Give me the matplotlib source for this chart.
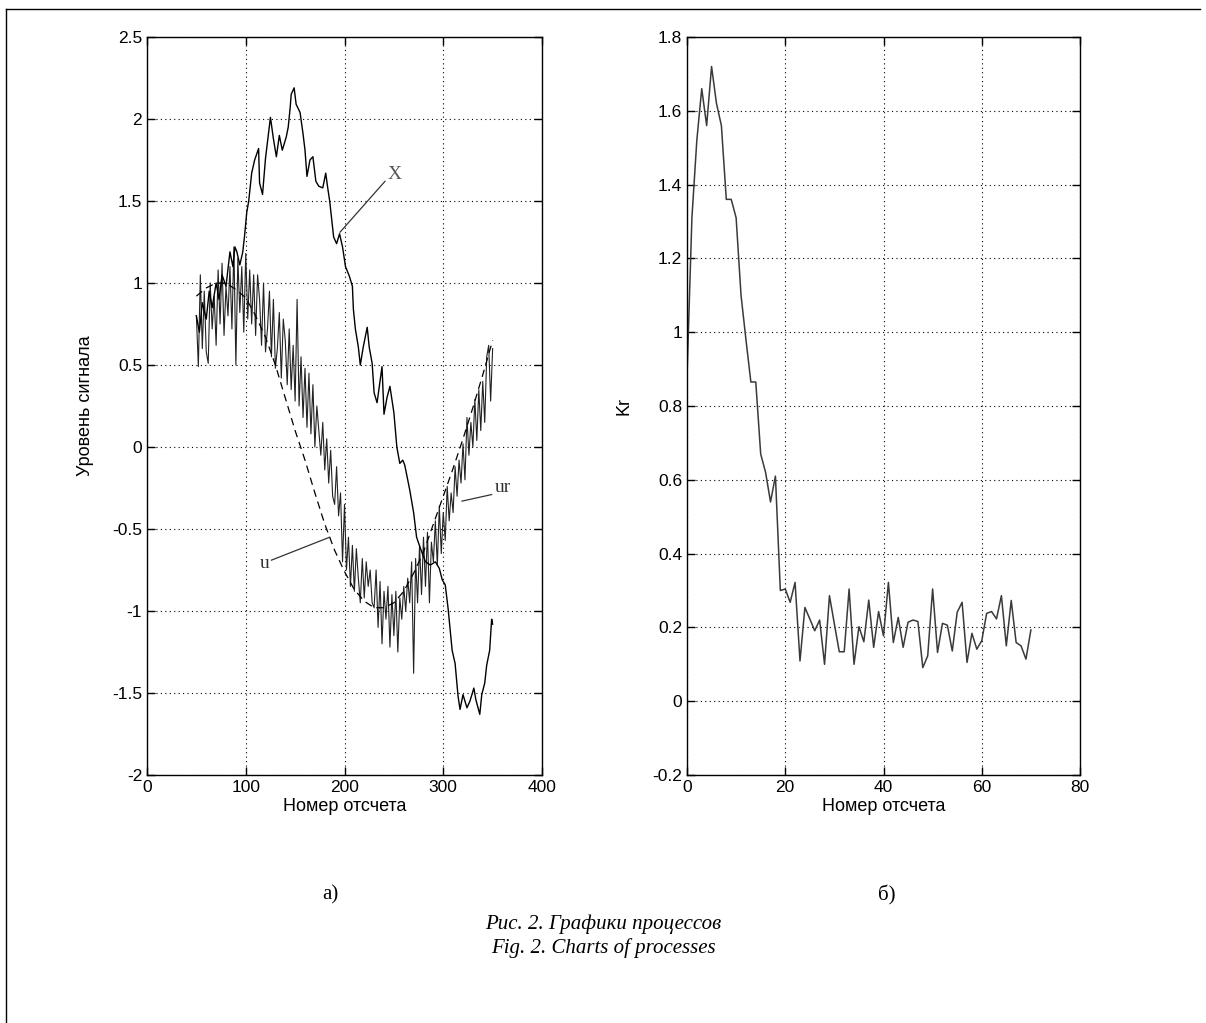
import numpy as np
import matplotlib.pyplot as plt
from matplotlib.lines import Line2D
from matplotlib.ticker import FuncFormatter

plt.rcParams['font.family'] = ['Liberation Sans', 'DejaVu Sans']
plt.rcParams['axes.unicode_minus'] = False

# ---- left panel data ----
# X: solid trace
x_X = [50, 53, 56, 60, 63, 66, 70, 73, 76, 80, 84, 87, 89, 91, 94, 97, 99, 101, 103, 106,
       109, 113, 114, 117, 120, 125, 128, 131, 134, 137, 141, 143, 145, 146, 149, 151, 155,
       158, 160, 162, 165, 168, 171, 174, 178, 181, 183, 185, 189, 192, 195, 198, 201, 205,
       208, 209, 211, 214, 216, 219, 223, 225, 228, 230, 233, 238, 240, 243, 246, 250, 253,
       256, 259, 261, 266, 270, 273, 277, 282, 287, 292, 296, 299, 302, 305, 309, 312, 315,
       317, 320, 324, 327, 331, 333, 337, 339, 342, 344, 347, 349, 350]
y_X = [0.80, 0.70, 0.88, 0.78, 0.95, 0.85, 1.00, 0.90, 1.05, 0.98, 1.19, 1.10, 1.22, 1.19,
       1.11, 1.19, 1.30, 1.43, 1.50, 1.67, 1.75, 1.82, 1.61, 1.54, 1.76, 2.01, 1.88, 1.77,
       1.90, 1.81, 1.89, 1.95, 2.07, 2.15, 2.19, 2.09, 2.04, 1.91, 1.81, 1.65, 1.75, 1.77,
       1.62, 1.59, 1.58, 1.67, 1.58, 1.50, 1.28, 1.24, 1.30, 1.22, 1.10, 1.04, 0.98, 0.84,
       0.72, 0.61, 0.50, 0.61, 0.73, 0.61, 0.51, 0.33, 0.27, 0.49, 0.20, 0.30, 0.37, 0.21,
       0.00, -0.10, -0.08, -0.11, -0.26, -0.40, -0.55, -0.62, -0.70, -0.72, -0.70, -0.74,
       -0.81, -0.84, -0.99, -1.24, -1.32, -1.52, -1.60, -1.51, -1.59, -1.55, -1.47, -1.54,
       -1.63, -1.51, -1.44, -1.33, -1.24, -1.05, -1.08]

# u: dashed smooth curve
x_u = [50, 60, 70, 80, 90, 100, 110, 120, 130, 140, 150, 160, 170, 180, 190, 200, 210, 220,
       230, 240, 250, 260, 270, 280, 290, 300, 310, 320, 330, 340, 350]
y_u = [0.92, 0.97, 1.00, 1.00, 0.96, 0.91, 0.80, 0.67, 0.50, 0.30, 0.10, -0.08, -0.28, -0.47,
       -0.63, -0.76, -0.87, -0.94, -0.98, -0.98, -0.95, -0.88, -0.77, -0.64, -0.47, -0.30,
       -0.13, 0.05, 0.24, 0.44, 0.65]

# ur: noisy trace, every 2nd sample from 50 to 350
x_ur = list(range(50, 351, 2))
y_ur = [0.80, 0.49, 1.05, 0.60, 0.95, 0.58, 0.51, 1.00, 0.72, 0.92,
        0.62, 1.08, 0.75, 1.12, 0.68, 0.98, 0.80, 1.10, 0.72, 1.22,
        0.50, 1.15, 0.82, 1.10, 0.70, 1.18, 0.78, 1.08, 0.75, 1.05,
        0.68, 1.05, 0.90, 0.62, 1.00, 0.58, 0.72, 0.95, 0.55, 0.90,
        0.48, 0.60, 0.82, 0.42, 0.78, 0.65, 0.38, 0.72, 0.35, 0.62,
        0.28, 0.90, 0.25, 0.55, 0.18, 0.48, 0.12, 0.45, 0.08, 0.38,
        0.00, 0.25, 0.10, -0.05, 0.15, -0.14, 0.05, -0.22, -0.02, -0.30,
        -0.35, -0.12, -0.42, -0.28, -0.70, -0.35, -0.75, -0.55, -0.85, -0.60,
        -0.88, -0.62, -0.80, -0.95, -0.68, -0.92, -0.70, -0.85, -0.75, -0.95,
        -0.98, -0.75, -1.10, -0.82, -1.20, -0.88, -1.05, -0.85, -1.22, -0.90,
        -1.15, -0.88, -1.25, -0.92, -1.05, -0.85, -1.00, -0.80, -0.95, -0.70,
        -1.38, -0.68, -0.95, -0.60, -0.90, -0.55, -0.85, -0.52, -0.95, -0.58,
        -0.70, -0.45, -0.72, -0.36, -0.65, -0.40, -0.57, -0.24, -0.45, -0.28,
        -0.40, -0.12, -0.30, -0.08, -0.22, 0.02, -0.20, 0.18, -0.05, 0.15,
        0.00, 0.29, 0.04, 0.35, 0.10, 0.40, 0.15, 0.55, 0.62, 0.28,
        0.60]

# ---- right panel data ----
k = list(range(0, 71))
kr = [0.88, 1.31, 1.52, 1.66, 1.56, 1.72, 1.62, 1.56, 1.36, 1.36,
      1.31, 1.10, 0.98, 0.865, 0.865, 0.67, 0.62, 0.54, 0.61, 0.30,
      0.304, 0.268, 0.322, 0.109, 0.254, 0.223, 0.191, 0.220, 0.100, 0.286,
      0.209, 0.134, 0.134, 0.304, 0.100, 0.202, 0.161, 0.274, 0.146, 0.243,
      0.177, 0.322, 0.159, 0.227, 0.146, 0.214, 0.220, 0.216, 0.091, 0.123,
      0.304, 0.132, 0.211, 0.206, 0.136, 0.241, 0.268, 0.105, 0.184, 0.141,
      0.164, 0.238, 0.243, 0.223, 0.286, 0.150, 0.273, 0.159, 0.150, 0.114,
      0.193]

W, H = 1206, 1023
fig = plt.figure(figsize=(W / 100, H / 100), dpi=100)
fmt = FuncFormatter(lambda v, p: '%g' % round(v, 2))


def style(ax):
    ax.grid(True, linestyle=(0, (1, 3)), color='black', linewidth=0.8)
    ax.tick_params(direction='in', top=True, right=True, length=6, labelsize=12.5,
                   width=1)
    for s in ax.spines.values():
        s.set_linewidth(1)
    ax.xaxis.set_major_formatter(fmt)
    ax.yaxis.set_major_formatter(fmt)


ax1 = fig.add_axes([147 / W, 248 / H, 395 / W, 738 / H])
ax1.plot(x_ur, y_ur, color='#222222', linewidth=0.8)
ax1.plot(x_u, y_u, color='black', linewidth=0.9, dashes=(6, 4))
ax1.plot(x_X, y_X, color='black', linewidth=1.0)
ax1.set_xlim(0, 400)
ax1.set_ylim(-2, 2.5)
ax1.set_xticks(np.arange(0, 401, 100))
ax1.set_yticks(np.arange(-2, 2.51, 0.5))
style(ax1)
ax1.set_xlabel('Номер отсчета', fontsize=13, labelpad=2)
ax1.set_ylabel('Уровень сигнала', fontsize=13, labelpad=13)

# annotations
serif = ['Liberation Serif', 'DejaVu Serif']
ax1.plot([195.5, 241], [1.31, 1.62], color='#333333', linewidth=0.9)
ax1.text(244, 1.66, 'X', family=serif, fontsize=14, color='#555555', va='center')
ax1.plot([126, 185], [-0.69, -0.55], color='#333333', linewidth=0.9)
ax1.text(124, -0.71, 'u', family=serif, fontsize=14, color='#333333', ha='right',
         va='center')
ax1.plot([319, 349], [-0.33, -0.29], color='#333333', linewidth=0.9)
ax1.text(352, -0.25, 'ur', family=serif, fontsize=14, color='#333333', va='center')

ax2 = fig.add_axes([687 / W, 248 / H, 393 / W, 738 / H])
ax2.plot(k, kr, color='#3a3a3a', linewidth=1.1)
ax2.set_xlim(0, 80)
ax2.set_ylim(-0.2, 1.8)
ax2.set_xticks(np.arange(0, 81, 20))
ax2.set_yticks(np.arange(-0.2, 1.81, 0.2))
style(ax2)
ax2.set_xlabel('Номер отсчета', fontsize=13, labelpad=2)
ax2.set_ylabel('Kr', fontsize=13, labelpad=14)

# captions
fig.text(330 / W, 1 - 895 / H, 'а)', family=serif, fontsize=15, ha='center', va='center')
fig.text(887 / W, 1 - 895 / H, 'б)', family=serif, fontsize=15, ha='center', va='center')
fig.text(603 / W, 1 - 924 / H, 'Рис. 2. Графики процессов', family=serif, style='italic',
         fontsize=15, ha='center', va='center')
fig.text(603 / W, 1 - 948 / H, 'Fig. 2. Charts of processes', family=serif, style='italic',
         fontsize=15, ha='center', va='center')

# page frame
fig.add_artist(Line2D([6 / W, 1200 / W], [1 - 9 / H, 1 - 9 / H], transform=fig.transFigure,
                      color='black', linewidth=1))
fig.add_artist(Line2D([6 / W, 6 / W], [1 - 9 / H, 0], transform=fig.transFigure,
                      color='black', linewidth=1))

fig.savefig('out.png', dpi=100)
